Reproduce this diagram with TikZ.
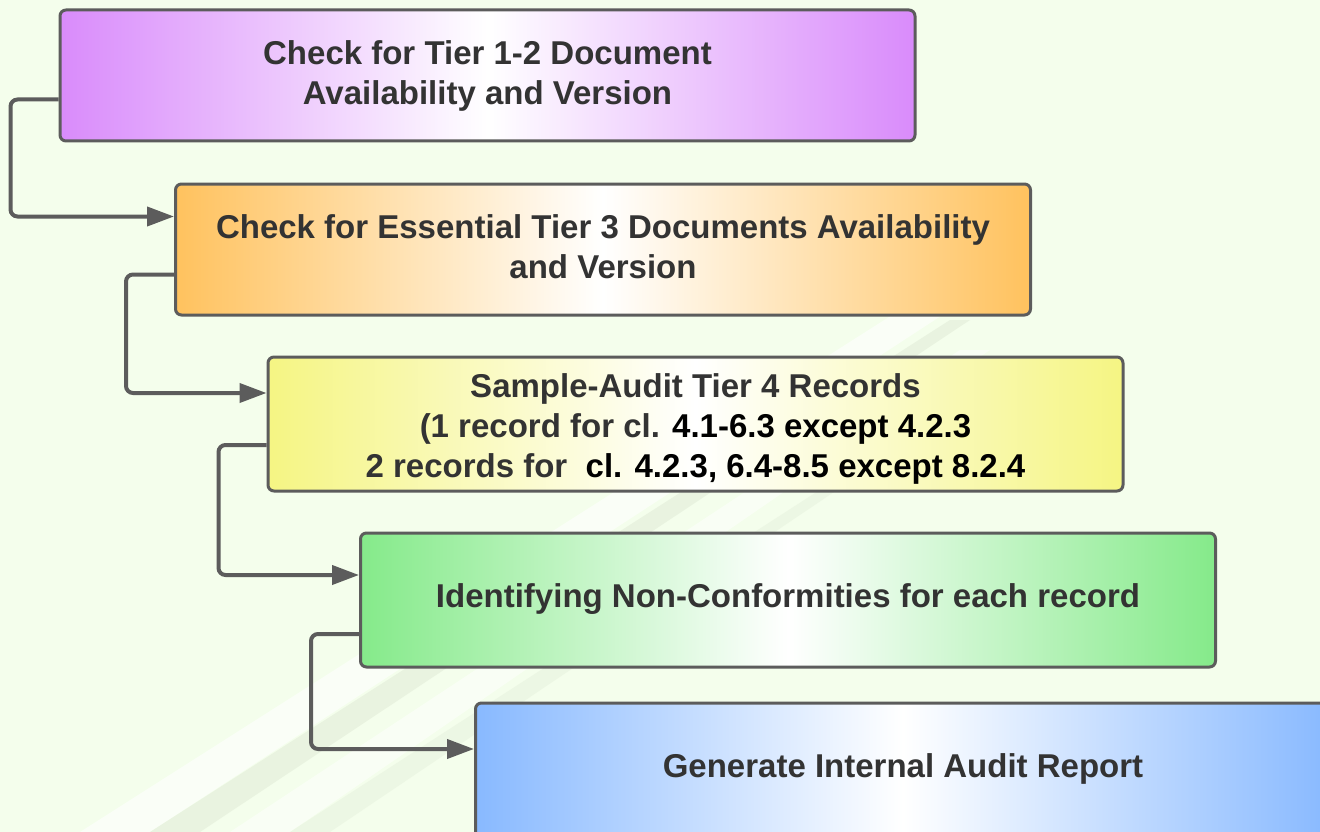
\documentclass[tikz,border=0pt]{standalone}
\usepackage{fontspec}
\setmainfont{Liberation Sans}
\usetikzlibrary{arrows.meta}
\definecolor{bg}{HTML}{F4FEEC}
\definecolor{streak}{HTML}{E2EDD8}
\definecolor{edge}{HTML}{5C5C5C}
\definecolor{txt}{HTML}{333333}
\definecolor{cpurple}{HTML}{D98BFB}
\definecolor{corange}{HTML}{FFC25E}
\definecolor{cyellow}{HTML}{F5F583}
\definecolor{cgreen}{HTML}{85EA8A}
\definecolor{cblue}{HTML}{88B9FF}
\newcommand{\shiftup}[2]{\raisebox{#1}[\height][\depth]{#2}}
\tikzset{
  stepbox/.style={draw=edge, line width=3pt, rounded corners=6pt,
    minimum width=855pt, minimum height=131pt, align=center,
    text=txt, font=\fontsize{33}{40}\selectfont\bfseries,
    middle color=white},
  conn/.style={draw=edge, line width=4pt, rounded corners=7pt,
    -{Triangle[length=27pt,width=19pt]}},
}
\begin{document}
\begin{tikzpicture}[x=1pt,y=-1pt]
\useasboundingbox (0,0) rectangle (1320,832);
\clip (0,0) rectangle (1320,832);
\fill[bg] (0,0) rectangle (1320,832);
% faint diagonal streaks of the background
\fill[white,opacity=0.6] (80,832) -- (150,832) -- (950,310) -- (900,310) -- cycle;
\fill[streak,opacity=0.6] (150,832) -- (200,832) -- (970,320) -- (950,320) -- cycle;
\fill[white,opacity=0.5] (230,832) -- (290,832) -- (990,350) -- (960,350) -- cycle;
\fill[streak,opacity=0.4] (290,832) -- (330,832) -- (1000,380) -- (990,380) -- cycle;

\node[stepbox, left color=cpurple, right color=cpurple, middle color=white] (b1) at (487.5,75.5)
  {Check for Tier 1-2 Document\\Availability and Version};
\node[stepbox, left color=corange, right color=corange, middle color=white] (b2) at (603,249.5)
  {\shiftup{-1pt}{\begin{tabular}{@{}c@{}}Check for Essential Tier 3 Documents Availability\\and Version\end{tabular}}};
\node[stepbox, minimum height=134pt, left color=cyellow, right color=cyellow, middle color=white] (b3) at (695.5,424)
  {\shiftup{-5pt}{\begin{tabular}{@{}c@{}}Sample-Audit Tier 4 Records\\(1 record for cl. \textcolor{black}{4.1-6.3 except 4.2.3}\\2 records for \ \textcolor{black}{cl. 4.2.3, 6.4-8.5 except 8.2.4}\end{tabular}}};
\node[stepbox, minimum height=134pt, left color=cgreen, right color=cgreen, middle color=white] (b4) at (788,600)
  {\shiftup{1pt}{Identifying Non-Conformities for each record}};
\node[stepbox, minimum height=134pt, left color=cblue, right color=cblue, middle color=white] (b5) at (903,770)
  {\shiftup{1pt}{Generate Internal Audit Report}};

\draw[conn] ([yshift=-24pt]b1.west) -- ++(-48,0) |- ([yshift=33pt]b2.west);
\draw[conn] ([yshift=-25pt]b2.west) -- ++(-48,0) |- ([yshift=31pt]b3.west);
\draw[conn] ([yshift=-21pt]b3.west) -- ++(-48,0) |- ([yshift=25pt]b4.west);
\draw[conn] ([yshift=-34pt]b4.west) -- ++(-48,0) |- ([yshift=21pt]b5.west);
\end{tikzpicture}
\end{document}
